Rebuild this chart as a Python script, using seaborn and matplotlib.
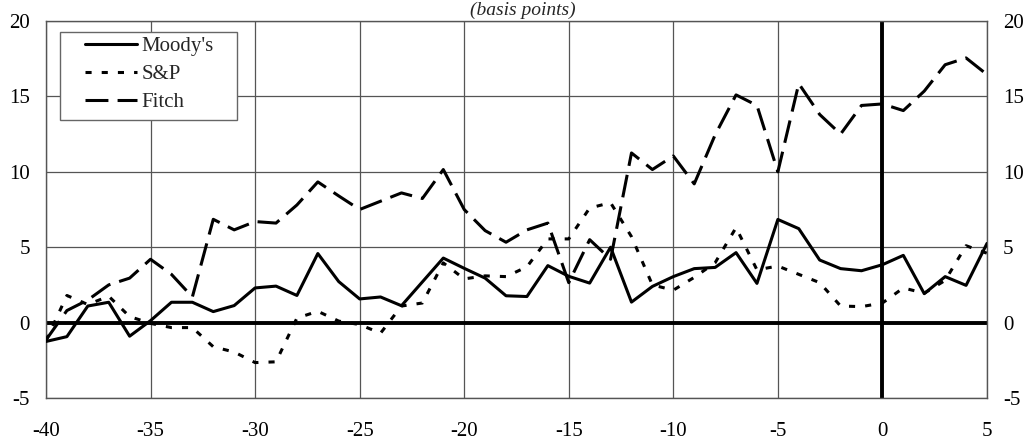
import numpy as np
import pandas as pd
import seaborn as sns
import matplotlib.pyplot as plt
from matplotlib.patches import Rectangle

# ---------------- data ----------------
days = list(range(-40, 6))

moodys = [-1.25, -0.93, 1.10, 1.35, -0.90, 0.13, 1.35, 1.35, 0.73, 1.13,
          2.30, 2.42, 1.80, 4.58, 2.72, 1.57, 1.70, 1.12, 2.70, 4.28,
          3.60, 2.95, 1.78, 1.73, 3.78, 3.07, 2.62, 5.00, 1.36, 2.40,
          3.05, 3.58, 3.66, 4.64, 2.60, 6.84, 6.23, 4.15, 3.58, 3.44,
          3.84, 4.46, 1.92, 3.05, 2.47, 5.25]

sp = [-1.20, 1.80, 1.20, 1.75, 0.40, -0.05, -0.33, -0.33, -1.60, -1.95,
      -2.65, -2.60, 0.30, 0.75, 0.10, -0.13, -0.70, 1.10, 1.30, 3.96,
      2.90, 3.10, 3.05, 3.70, 5.55, 5.55, 7.60, 7.95, 5.70, 2.50,
      2.15, 3.00, 3.97, 6.30, 3.50, 3.75, 3.20, 2.65, 1.10, 1.06,
      1.30, 2.30, 1.95, 2.80, 5.10, 4.60]

fitch = [-1.15, 0.80, 1.50, 2.50, 2.95, 4.20, 3.20, 1.70, 6.85, 6.15,
         6.70, 6.60, 7.80, 9.33, 8.40, 7.50, 8.05, 8.60, 8.23, 10.15,
         7.50, 6.10, 5.33, 6.15, 6.60, 2.65, 5.50, 4.20, 11.25, 10.15,
         11.05, 9.20, 12.45, 15.10, 14.40, 10.00, 15.85, 13.80, 12.50, 14.40,
         14.50, 14.06, 15.35, 17.10, 17.55, 16.45]

series_names = ["Moody's", "S&P", "Fitch"]
title_text = "(basis points)"
xtick_values = list(range(-40, 6, 5))
xtick_labels = ["-40", "-35", "-30", "-25", "-20", "-15", "-10", "-5", "0", "5"]
ytick_values = list(range(-5, 21, 5))
ytick_labels = ["-5", "0", "5", "10", "15", "20"]

df = pd.DataFrame({
    "Day": days * 3,
    "Value": moodys + sp + fitch,
    "Agency": [series_names[0]] * len(days) + [series_names[1]] * len(days) + [series_names[2]] * len(days),
})

# ---------------- style ----------------
sns.set_theme(style="white")
plt.rcParams["font.family"] = ["Liberation Serif", "DejaVu Serif"]
plt.rcParams["axes.unicode_minus"] = False

fig = plt.figure(figsize=(10.31, 4.42), dpi=100)
ax = fig.add_axes([0.0446, 0.0995, 0.9127, 0.853])

grid_col = "#555555"

sns.lineplot(data=df, x="Day", y="Value", style="Agency",
             style_order=series_names,
             dashes={"Moody's": "", "S&P": (2.0, 3.3), "Fitch": (7.5, 3.0)},
             color="black", linewidth=2.2, ax=ax, legend=False,
             sort=False, estimator=None, zorder=3)

ax.axhline(0, color="black", lw=2.8, zorder=2.5)
ax.axvline(0, color="black", lw=2.8, zorder=2.5)

ax.set_xlim(-40, 5)
ax.set_ylim(-5, 20)
ax.set_xticks(xtick_values)
ax.set_xticklabels(xtick_labels)
ax.set_yticks(ytick_values)
ax.set_yticklabels(ytick_labels)
ax.set_xlabel("")
ax.set_ylabel("")
ax.tick_params(axis="both", length=0, labelsize=15, colors="black")
ax.tick_params(axis="x", pad=17)
ax.tick_params(axis="y", pad=11.5, labelright=True)

ax.grid(True, color=grid_col, lw=0.9)
ax.set_axisbelow(True)
for s in ax.spines.values():
    s.set_color(grid_col)
    s.set_linewidth(1.0)
    s.set_visible(True)

# legend box
ax.add_patch(Rectangle((0.0149, 0.7374), 0.1881, 0.2334, transform=ax.transAxes,
                       facecolor="white", edgecolor="#666666", lw=1.0, zorder=4))
leg = ax.legend(handles=ax.lines[:3], labels=series_names, frameon=False,
                loc="upper left", bbox_to_anchor=(0.0414, 0.959),
                borderaxespad=0, borderpad=0, handlelength=2.5,
                handletextpad=0.2, labelspacing=0.4, fontsize=15)
leg.set_zorder(5)

fig.text(0.507, 0.966, title_text, ha="center", va="baseline",
         fontsize=14, fontstyle="italic")

fig.savefig("out.png", dpi=100)
